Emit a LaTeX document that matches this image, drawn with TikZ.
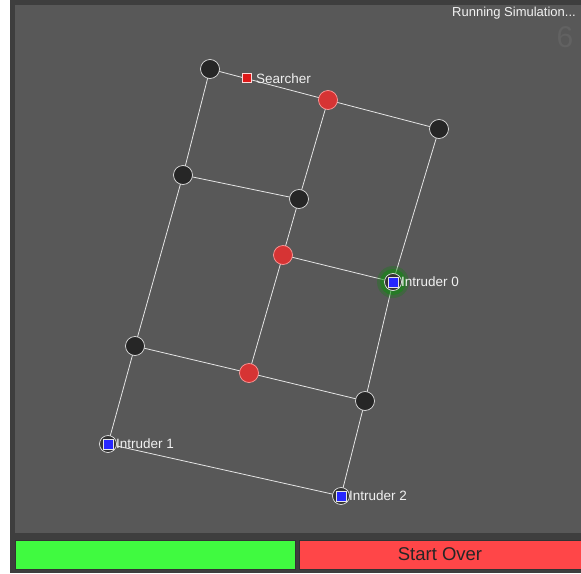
\documentclass[tikz,border=0pt]{standalone}
\usepackage{fontspec}
\setmainfont{Liberation Sans}
\usetikzlibrary{calc}
\definecolor{panel}{RGB}{88,88,88}
\definecolor{frame}{RGB}{62,62,62}
\definecolor{nodered}{RGB}{214,52,52}
\definecolor{btngreen}{RGB}{64,250,64}
\definecolor{btnred}{RGB}{255,70,72}
\definecolor{faint}{RGB}{98,98,98}
\begin{document}
\begin{tikzpicture}[x=1pt,y=-1pt,
  edge/.style={draw=white!80!gray, line width=0.8pt},
  blk/.style={circle, fill=black!85, draw=white!75!gray, line width=0.7pt, minimum size=19pt, inner sep=0pt},
  rednode/.style={circle, fill=nodered, draw=white!60!red, line width=0.7pt, minimum size=19pt, inner sep=0pt},
  intr/.style={circle, fill=black!80, draw=white!80!gray, line width=0.7pt, minimum size=17pt, inner sep=0pt},
  lbl/.style={text=white!88!gray, font=\fontsize{13.5}{15}\selectfont, anchor=west, inner sep=0pt}]
\useasboundingbox (0,0) rectangle (581,573);
\fill[white] (0,0) rectangle (581,573);
\fill[frame] (10,0) rectangle (581,573);
\fill[panel] (15,5) rectangle (581,533);
% buttons
\node[draw=black!80, fill=btngreen, minimum width=280pt, minimum height=29pt, inner sep=0pt, line width=0.8pt] (go) at (155,554.5) {};
\node[draw=black!80, fill=btnred, minimum width=282pt, minimum height=29pt, inner sep=0pt, line width=0.8pt, font=\fontsize{18.5}{20}\selectfont, text=black!85] (start) at (440,554.5) {Start Over};
% header
\node[anchor=east, text=white!90!gray, font=\fontsize{13}{15}\selectfont, inner sep=0pt] (run) at (576,13) {Running Simulation...};
\node[text=faint, font=\fontsize{30}{32}\selectfont, inner sep=0pt] (six) at (565,37) {6};
% node coordinates
\coordinate (a1) at (210,69);
\coordinate (a2) at (328,100);
\coordinate (a3) at (439,129);
\coordinate (b1) at (183,175);
\coordinate (b2) at (299,199);
\coordinate (c2) at (283,255);
\coordinate (c3) at (393,282);
\coordinate (d1) at (135,346);
\coordinate (d2) at (249,373);
\coordinate (d3) at (365,401);
\coordinate (e1) at (108,444);
\coordinate (e3) at (341,496);
% edges
\draw[edge] (a1) -- (a2) -- (a3);
\draw[edge] (a1) -- (b1) -- (d1) -- (e1);
\draw[edge] (a2) -- (b2) -- (c2) -- (d2);
\draw[edge] (a3) -- (c3) -- (d3) -- (e3);
\draw[edge] (b1) -- (b2);
\draw[edge] (c2) -- (c3);
\draw[edge] (d1) -- (d2) -- (d3);
\draw[edge] (e1) -- (e3);
% nodes
\node[blk] (na1) at (a1) {};
\node[blk] (na3) at (a3) {};
\node[blk] (nb1) at (b1) {};
\node[blk] (nb2) at (b2) {};
\node[blk] (nd1) at (d1) {};
\node[blk] (nd3) at (d3) {};
\node[rednode] (na2) at (a2) {};
\node[rednode] (nc2) at (c2) {};
\node[rednode] (nd2) at (d2) {};
% intruder glow
\fill[green!55!black, opacity=0.25] (c3) circle (16);
\fill[green!60!black, opacity=0.4] (c3) circle (13);
\node[intr] (ni0) at (c3) {};
\node[intr] (ni1) at (e1) {};
\node[intr] (ni2) at (e3) {};
\foreach \n in {c3,e1,e3}{
  \fill[blue!85!white, draw=white!80!gray, line width=0.6pt] ($(\n)+(-5,-5)$) rectangle ($(\n)+(5,5)$);
}
% searcher
\node[fill=red!85!black!90!white, draw=white!85!red, line width=0.6pt, minimum size=9pt, inner sep=0pt] (srch) at (247,78) {};
% labels
\node[lbl] (ls) at (256,79) {Searcher};
\node[lbl] (l0) at (401,282) {Intruder 0};
\node[lbl] (l1) at (116,444) {Intruder 1};
\node[lbl] (l2) at (349,496) {Intruder 2};
\end{tikzpicture}
\end{document}
